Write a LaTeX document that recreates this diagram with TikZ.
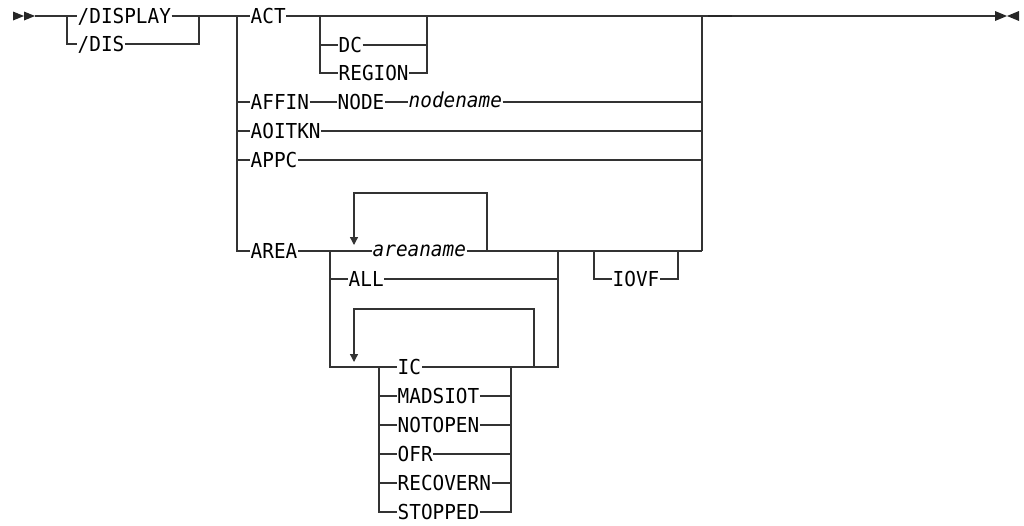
\documentclass[tikz,border=0pt]{standalone}
\usepackage{fontspec}
\newfontfamily\railfont[FakeStretch=0.94]{DejaVu Sans Mono}
\usetikzlibrary{arrows.meta}

\tikzset{
  rail/.style={line width=1.3pt, draw=black!80, line join=miter},
  kw/.style={font={\railfont\fontsize{20.6}{24}\selectfont}, anchor=west,
    inner xsep=0.5pt, inner ysep=0pt, text height=15pt, text depth=0pt},
  var/.style={kw, font={\railfont\itshape\fontsize{20.6}{24}\selectfont},
    text height=11.4pt},
  back/.style={rail, -{Triangle[length=8pt,width=8pt]}},
  endmark/.style={fill=black!85}
}

\begin{document}
\begin{tikzpicture}[x={(1pt,0)},y={(0,-1pt)}]

\useasboundingbox (0,0) rectangle (1024,525);

%====================================================
% Keywords
%====================================================
\node[kw] (display) at (77,16) {/DISPLAY};
\node[kw] (dis)     at (77,44) {/DIS};

\node[kw] (act)    at (250,16)  {ACT};
\node[kw] (dc)     at (338,45)  {DC};
\node[kw] (region) at (338,73)  {REGION};
\node[kw] (affin)  at (250,102) {AFFIN};
\node[kw] (nodekw) at (337,102) {NODE};
\node[var] (nodename) at (408,102) {nodename};
\node[kw] (aoitkn) at (250,131) {AOITKN};
\node[kw] (appc)   at (250,160) {APPC};

\node[kw] (area)   at (250,251) {AREA};
\node[var] (areaname) at (372,251) {areaname};
\node[kw] (all)    at (348,279) {ALL};
\node[kw] (iovf)   at (612,279) {IOVF};

\node[kw] (ic)       at (397,367) {IC};
\node[kw] (madsiot)  at (397,396) {MADSIOT};
\node[kw] (notopen)  at (397,425) {NOTOPEN};
\node[kw] (ofr)      at (397,454) {OFR};
\node[kw] (recovern) at (397,483) {RECOVERN};
\node[kw] (stopped)  at (397,512) {STOPPED};

%====================================================
% Fork and join points
%====================================================
\coordinate (start) at (35,16);
\coordinate (f1) at (67,16);
\coordinate (j1) at (199,16);
\coordinate (f2) at (237,16);
\coordinate (f3) at (320,16);
\coordinate (j3) at (427,16);
\coordinate (j2) at (702,16);
\coordinate (stop) at (995,16);

\coordinate (f4) at (330,251);
\coordinate (l1) at (487,251);
\coordinate (j4) at (558,251);
\coordinate (f6) at (594,251);
\coordinate (j6) at (678,251);

\coordinate (f5) at (379,367);
\coordinate (j5) at (511,367);
\coordinate (l2) at (534,367);

%====================================================
% Start and end marks
%====================================================
\fill[endmark] (13,11.5) -- (24,16) -- (13,20.5) -- cycle;
\fill[endmark] (24,11.5) -- (35,16) -- (24,20.5) -- cycle;
\fill[endmark] (995,11) -- (1007,16) -- (995,21) -- cycle;
\fill[endmark] (1019,11) -- (1007,16) -- (1019,21) -- cycle;

%====================================================
% /DISPLAY | /DIS
%====================================================
\draw[rail] (start) -- (display.west);
\draw[rail] (f1) -- (f1 |- dis) -- (dis.west);
\draw[rail] (display.east) -- (j1);
\draw[rail] (dis.east) -- (j1 |- dis) -- (j1) -- (act.west);

%====================================================
% Main choice
%====================================================
\draw[rail] (f2) -- (f2 |- area) -- (area.west);
\draw[rail] (f2 |- affin) -- (affin.west);
\draw[rail] (f2 |- aoitkn) -- (aoitkn.west);
\draw[rail] (f2 |- appc) -- (appc.west);

% ACT
\draw[rail] (act.east) -- (stop);
\draw[rail] (f3) -- (f3 |- region) -- (region.west);
\draw[rail] (f3 |- dc) -- (dc.west);
\draw[rail] (dc.east) -- (j3 |- dc);
\draw[rail] (region.east) -- (j3 |- region) -- (j3);
\draw[line width=2.2pt, black!85] (708,16) -- (732,16);

% AFFIN NODE nodename
\draw[rail] (affin.east) -- (nodekw.west);
\draw[rail] (nodekw.east) -- (nodename.west);
\draw[rail] (nodename.east) -- (j2 |- nodename);

% AOITKN, APPC
\draw[rail] (aoitkn.east) -- (j2 |- aoitkn);
\draw[rail] (appc.east) -- (j2 |- appc);

% right join
\draw[rail] (j2) -- (j2 |- area);

%====================================================
% AREA
%====================================================
\draw[rail] (area.east) -- (areaname.west);
\draw[rail] (areaname.east) -- (j2 |- area);
\draw[back] (l1) -- (487,193) -- (354,193) -- (354,245);

\draw[rail] (f4) -- (f4 |- ic) -- (ic.west);
\draw[rail] (f4 |- all) -- (all.west);
\draw[rail] (all.east) -- (j4 |- all);
\draw[rail] (j4) -- (j4 |- ic) -- (ic.east);
\draw[back] (l2) -- (534,309) -- (354,309) -- (354,362);

% IOVF
\draw[rail] (f6) -- (f6 |- iovf) -- (iovf.west);
\draw[rail] (iovf.east) -- (j6 |- iovf) -- (j6);

%====================================================
% IC ... STOPPED
%====================================================
\draw[rail] (f5) -- (f5 |- stopped) -- (stopped.west);
\draw[rail] (stopped.east) -- (j5 |- stopped) -- (j5);
\foreach \k in {madsiot,notopen,ofr,recovern}{
  \draw[rail] (f5 |- \k) -- (\k.west);
  \draw[rail] (\k.east) -- (j5 |- \k);
}

\end{tikzpicture}
\end{document}
